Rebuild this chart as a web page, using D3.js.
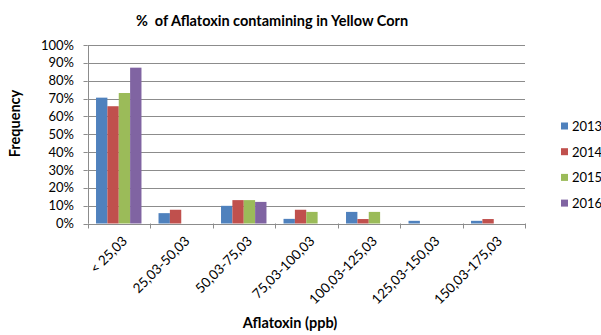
<!DOCTYPE html>
<html>
<head>
<meta charset="utf-8">
<script src="https://cdn.jsdelivr.net/npm/d3@7"></script>
<style>
  html, body { margin: 0; padding: 0; background: #fff; }
  svg text { font-family: Lato, "Open Sans", "Liberation Sans", sans-serif; fill: #000; white-space: pre; }
</style>
</head>
<body>
<div id="chart"></div>
<script>
// Aflatoxin ranges (ppb)
const categories = ['< 25,03', '25,03-50,03', '50,03-75,03', '75,03-100,03', '100,03-125,03', '125,03-150,03', '150,03-175,03'];
const years = ['2013', '2014', '2015', '2016'];
const colors = ['#4F81BD', '#C0504D', '#9BBB59', '#8064A2'];

// share of samples per range, one array per year (0 = no bar)
const v2013 = [70.5, 5.8, 9.9, 2.6, 6.5, 1.5, 1.5];
const v2014 = [65.7, 7.7, 13.1, 7.7, 2.5, 0, 2.5];
const v2015 = [73.1, 0, 13.1, 6.5, 6.5, 0, 0];
const v2016 = [87.3, 0, 12.1, 0, 0, 0, 0];
const series = [v2013, v2014, v2015, v2016];

const yTicks = [0, 10, 20, 30, 40, 50, 60, 70, 80, 90, 100];

const W = 601, H = 335;
const plot = { left: 87.5, right: 525, top: 45, bottom: 223.5 };

const svg = d3.select('#chart').append('svg')
    .attr('width', W).attr('height', H);

const x = d3.scaleBand()
    .domain(categories)
    .range([plot.left, plot.right])
    .paddingInner(0).paddingOuter(0);

// gap width ~150% of a bar, like the spreadsheet default
const bandW = x.bandwidth();
const barW = bandW / 5.5;
const gap = (bandW - barW * 4) / 2;

const y = d3.scaleLinear().domain([0, 100]).range([plot.bottom, plot.top]);

// gridlines
svg.append('g')
    .selectAll('line')
    .data(yTicks)
    .join('line')
    .attr('x1', plot.left).attr('x2', plot.right)
    .attr('y1', d => Math.round(y(d)) + 0.5).attr('y2', d => Math.round(y(d)) + 0.5)
    .attr('stroke', '#8c8c8c').attr('stroke-width', 1);

// y axis labels + ticks
const yAxis = svg.append('g');
yAxis.selectAll('text')
    .data(yTicks)
    .join('text')
    .attr('x', 74)
    .attr('y', d => y(d))
    .attr('dy', '0.35em')
    .attr('text-anchor', 'end')
    .attr('font-size', 13)
    .text(d => d + '%');
yAxis.selectAll('line')
    .data(yTicks)
    .join('line')
    .attr('x1', plot.left - 4).attr('x2', plot.left)
    .attr('y1', d => Math.round(y(d)) + 0.5).attr('y2', d => Math.round(y(d)) + 0.5)
    .attr('stroke', '#8c8c8c');
yAxis.append('line')
    .attr('x1', Math.round(plot.left) + 0.5).attr('x2', Math.round(plot.left) + 0.5)
    .attr('y1', plot.top).attr('y2', plot.bottom)
    .attr('stroke', '#8c8c8c');

// bars
series.forEach((vals, si) => {
    svg.append('g')
        .selectAll('rect')
        .data(vals.map((v, i) => ({ cat: categories[i], v })))
        .join('rect')
        .filter(d => d.v > 0)
        .attr('x', d => x(d.cat) + gap + si * barW)
        .attr('y', d => y(d.v))
        .attr('width', barW)
        .attr('height', d => y(0) - y(d.v))
        .attr('fill', colors[si]);
});

// x axis: baseline, tick marks at category edges, rotated labels
const xAxis = svg.append('g');
xAxis.append('line')
    .attr('x1', plot.left).attr('x2', plot.right)
    .attr('y1', Math.round(plot.bottom) + 0.5).attr('y2', Math.round(plot.bottom) + 0.5)
    .attr('stroke', '#8c8c8c');
const edges = categories.map(c => x(c)).concat([plot.right]);
xAxis.selectAll('line.tick')
    .data(edges)
    .join('line')
    .attr('class', 'tick')
    .attr('x1', d => Math.round(d) + 0.5).attr('x2', d => Math.round(d) + 0.5)
    .attr('y1', plot.bottom).attr('y2', plot.bottom + 5)
    .attr('stroke', '#8c8c8c');
xAxis.selectAll('text')
    .data(categories)
    .join('text')
    .attr('transform', d => `translate(${x(d) + bandW / 2 + 6},${plot.bottom + 15}) rotate(-45)`)
    .attr('text-anchor', 'end')
    .attr('dy', '0.35em')
    .attr('font-size', 13.5)
    .text(d => d);

// titles
svg.append('text')
    .attr('x', 272).attr('y', 26)
    .attr('text-anchor', 'middle')
    .attr('font-size', 14.5).attr('font-weight', 'bold')
    .text('%  of Aflatoxin contamining in Yellow Corn');

svg.append('text')
    .attr('x', 290).attr('y', 328)
    .attr('text-anchor', 'middle')
    .attr('font-size', 14.5).attr('font-weight', 'bold')
    .text('Aflatoxin (ppb)');

svg.append('text')
    .attr('transform', 'translate(20,123.5) rotate(-90)')
    .attr('text-anchor', 'middle')
    .attr('font-size', 14.5).attr('font-weight', 'bold')
    .text('Frequency');

// legend
const legend = svg.append('g')
    .selectAll('g')
    .data(years)
    .join('g')
    .attr('transform', (d, i) => `translate(561,${126.5 + i * 25.7})`);
legend.append('rect')
    .attr('x', 0).attr('y', -4)
    .attr('width', 7).attr('height', 7)
    .attr('fill', (d, i) => colors[i]);
legend.append('text')
    .attr('x', 11).attr('y', 0)
    .attr('dy', '0.35em')
    .attr('font-size', 13)
    .text(d => d);
</script>
</body>
</html>
